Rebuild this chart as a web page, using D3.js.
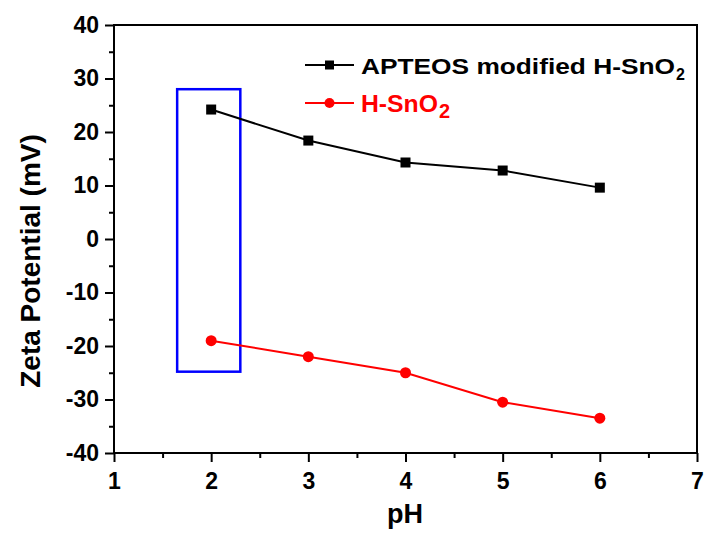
<!DOCTYPE html>
<html>
<head>
<meta charset="utf-8">
<script src="https://d3js.org/d3.v7.min.js"></script>
<style>
  body { margin: 0; background: #fff; }
  svg { display: block; font-family: "Liberation Sans", Arial, sans-serif; font-weight: bold; }
</style>
</head>
<body>
<svg id="chart" width="705" height="535"></svg>
<script>
// pH values and zeta potentials (mV)
const phValues = [2, 3, 4, 5, 6];
const apteosZeta = [24.2, 18.4, 14.3, 12.8, 9.6];
const hSnO2Zeta = [-19.0, -22.0, -25.0, -30.5, -33.5];

// tick values
const xTicks = [1, 2, 3, 4, 5, 6, 7];
const yTicks = [-40, -30, -20, -10, 0, 10, 20, 30, 40];

// highlighted region around pH 2: [xMin, xMax, yMin, yMax]
const highlightBox = [1.65, 2.3, -24.8, 28];

const svg = d3.select("#chart");
const margin = { left: 114, right: 8, top: 25, bottom: 82 };
const W = 705, H = 535;

const x = d3.scaleLinear().domain([1, 7]).range([margin.left, W - margin.right]);
const y = d3.scaleLinear().domain([-40, 40]).range([H - margin.bottom, margin.top]);

// plain hyphen for negative tick labels
const fmt = d => String(d);

// frame
svg.append("rect")
  .attr("x", x(1)).attr("y", y(40))
  .attr("width", x(7) - x(1)).attr("height", y(-40) - y(40))
  .attr("fill", "none").attr("stroke", "#000").attr("stroke-width", 2);

// x axis: minor + major ticks
const xMinor = d3.range(1.5, 7, 1);
svg.append("g").attr("transform", `translate(0,${y(-40)})`)
  .call(d3.axisBottom(x).tickValues(xMinor).tickSize(5).tickFormat(""))
  .call(g => g.select(".domain").remove())
  .call(g => g.selectAll("line").attr("stroke-width", 2));
const gx = svg.append("g").attr("transform", `translate(0,${y(-40)})`)
  .call(d3.axisBottom(x).tickValues(xTicks).tickSize(9).tickPadding(11).tickFormat(fmt));
gx.select(".domain").remove();
gx.selectAll("line").attr("stroke-width", 2);
gx.selectAll("text").attr("font-size", 23).attr("font-weight", "bold").attr("fill", "#000")
  .attr("font-family", "Liberation Sans, Arial, sans-serif");

// y axis: minor + major ticks
const yMinor = d3.range(-35, 40, 10);
svg.append("g").attr("transform", `translate(${x(1)},0)`)
  .call(d3.axisLeft(y).tickValues(yMinor).tickSize(5).tickFormat(""))
  .call(g => g.select(".domain").remove())
  .call(g => g.selectAll("line").attr("stroke-width", 2));
const gy = svg.append("g").attr("transform", `translate(${x(1)},0)`)
  .call(d3.axisLeft(y).tickValues(yTicks).tickSize(9).tickPadding(6).tickFormat(fmt));
gy.select(".domain").remove();
gy.selectAll("line").attr("stroke-width", 2);
gy.selectAll("text").attr("font-size", 23).attr("font-weight", "bold").attr("fill", "#000")
  .attr("font-family", "Liberation Sans, Arial, sans-serif");

// axis titles
svg.append("text")
  .attr("x", 405).attr("y", 523)
  .attr("text-anchor", "middle").attr("font-size", 27).text("pH");
svg.append("text")
  .attr("transform", `translate(40,261) rotate(-90)`)
  .attr("text-anchor", "middle").attr("font-size", 28).text("Zeta Potential (mV)");

// highlight box
svg.append("rect")
  .attr("x", x(highlightBox[0])).attr("y", y(highlightBox[3]))
  .attr("width", x(highlightBox[1]) - x(highlightBox[0]))
  .attr("height", y(highlightBox[2]) - y(highlightBox[3]))
  .attr("fill", "none").attr("stroke", "#0000ff").attr("stroke-width", 2.5);

const line = d3.line().x(d => x(d[0])).y(d => y(d[1]));

const series = [
  { values: apteosZeta, color: "#000000", marker: "square" },
  { values: hSnO2Zeta, color: "#ff0000", marker: "circle" }
];

series.forEach(s => {
  const pts = phValues.map((p, i) => [p, s.values[i]]);
  svg.append("path").datum(pts).attr("d", line)
    .attr("fill", "none").attr("stroke", s.color).attr("stroke-width", 2);
  if (s.marker === "square") {
    svg.selectAll(null).data(pts).enter().append("rect")
      .attr("x", d => x(d[0]) - 5).attr("y", d => y(d[1]) - 5)
      .attr("width", 10).attr("height", 10).attr("fill", s.color);
  } else {
    svg.selectAll(null).data(pts).enter().append("circle")
      .attr("cx", d => x(d[0])).attr("cy", d => y(d[1]))
      .attr("r", 5.5).attr("fill", s.color);
  }
});

// legend
const legend = [
  { label: "APTEOS modified H-SnO", color: "#000000", marker: "square", yPos: 65, size: 22, len: 314, sub: 16 },
  { label: "H-SnO", color: "#ff0000", marker: "circle", yPos: 103, size: 23, len: 77, sub: 20 }
];
legend.forEach(l => {
  const g = svg.append("g");
  g.append("line").attr("x1", 305).attr("x2", 354).attr("y1", l.yPos).attr("y2", l.yPos)
    .attr("stroke", l.color).attr("stroke-width", 2);
  if (l.marker === "square") {
    g.append("rect").attr("x", 325).attr("y", l.yPos - 4.5).attr("width", 9).attr("height", 9).attr("fill", l.color);
  } else {
    g.append("circle").attr("cx", 329.5).attr("cy", l.yPos).attr("r", 5).attr("fill", l.color);
  }
  g.append("text").attr("x", 361).attr("y", l.yPos + 8.5)
    .attr("font-size", l.size).attr("fill", l.color)
    .attr("textLength", l.len).attr("lengthAdjust", "spacingAndGlyphs")
    .text(l.label);
  g.append("text").attr("x", 361 + l.len + 1).attr("y", l.yPos + 15)
    .attr("font-size", l.sub).attr("fill", l.color).text("2");
});
</script>
</body>
</html>
